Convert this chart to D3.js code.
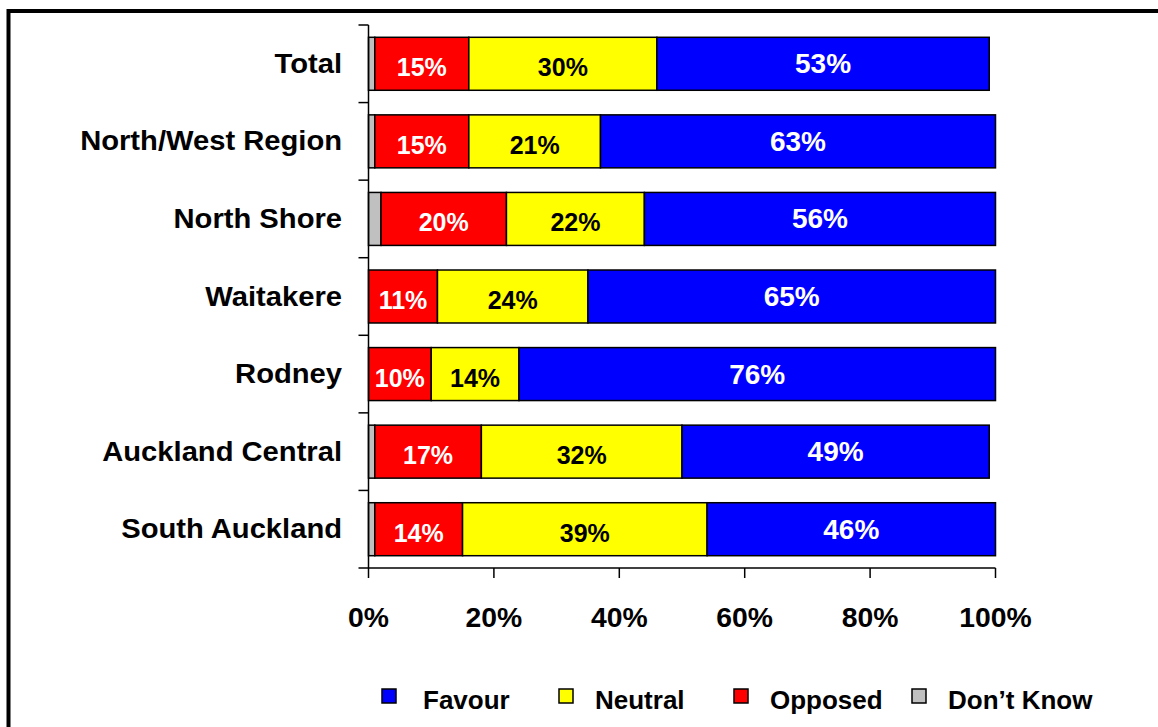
<!DOCTYPE html>
<html>
<head>
<meta charset="utf-8">
<script src="https://cdn.jsdelivr.net/npm/d3@7"></script>
<style>
  body { margin: 0; background: #fff; }
  svg text { font-family: "Liberation Sans", Arial, sans-serif; font-weight: bold; }
</style>
</head>
<body>
<div id="chart"></div>
<script>
// data
const categories = ["Total", "North/West Region", "North Shore", "Waitakere", "Rodney", "Auckland Central", "South Auckland"];
const dontKnow = [1, 1, 2, 0, 0, 1, 1];
const opposed  = [15, 15, 20, 11, 10, 17, 14];
const neutral  = [30, 21, 22, 24, 14, 32, 39];
const favour   = [53, 63, 56, 65, 76, 49, 46];
const xTicks = [0, 20, 40, 60, 80, 100];
const seriesNames = ["Don't Know", "Opposed", "Neutral", "Favour"];
const legendNames = ["Favour", "Neutral", "Opposed", "Don\u2019t Know"];

const colors = { "Don't Know": "#c0c0c0", "Opposed": "#ff0000", "Neutral": "#ffff00", "Favour": "#0000ff" };
const labelColors = { "Opposed": "#fff", "Neutral": "#000", "Favour": "#fff" };

const W = 1158, H = 727;
const svg = d3.select("#chart").append("svg")
    .attr("width", W)
    .attr("height", H);

// outer frame (only top and left edges are in view)
svg.append("path")
    .attr("d", `M8.5,${H + 10} L8.5,11 L${W + 10},11`)
    .attr("fill", "none")
    .attr("stroke", "#000")
    .attr("stroke-width", 4);

// scales
const pad = 0.317;
const x = d3.scaleLinear().domain([0, 100]).range([368.5, 995.5]);
const y = d3.scaleBand().domain(categories).range([25, 568])
    .paddingInner(pad).paddingOuter(pad / 2);

// stack the rows
const rows = categories.map((c, i) => ({
    cat: c,
    "Don't Know": dontKnow[i], "Opposed": opposed[i], "Neutral": neutral[i], "Favour": favour[i]
}));
const stacked = d3.stack().keys(seriesNames)(rows);

const g = svg.append("g");
stacked.forEach(layer => {
    g.selectAll(null)
        .data(layer)
        .enter()
        .append("rect")
        .attr("x", d => x(d[0]))
        .attr("y", d => y(d.data.cat))
        .attr("width", d => x(d[1]) - x(d[0]))
        .attr("height", y.bandwidth())
        .attr("fill", colors[layer.key])
        .attr("stroke", "#000")
        .attr("stroke-width", d => d[1] > d[0] ? 1.5 : 0);

    if (layer.key === "Don't Know") return;
    const big = layer.key === "Favour";
    g.selectAll(null)
        .data(layer)
        .enter()
        .append("text")
        .attr("x", d => x((d[0] + d[1]) / 2))
        .attr("y", d => y(d.data.cat) + y.bandwidth() / 2 + (big ? 9.5 : 12.5))
        .attr("text-anchor", "middle")
        .attr("font-size", big ? 28 : 25)
        .attr("fill", labelColors[layer.key])
        .text(d => (d[1] - d[0]) + "%");
});

// y axis: line with ticks at band boundaries
const step = y.step();
const yTop = y(categories[0]) - step * pad / 2;
const yBot = yTop + step * categories.length;
const axisG = svg.append("g").attr("stroke", "#000").attr("stroke-width", 1.5);
axisG.append("line").attr("x1", x(0)).attr("x2", x(0)).attr("y1", yTop).attr("y2", yBot);
axisG.selectAll(null)
    .data(d3.range(categories.length + 1))
    .enter()
    .append("line")
    .attr("x1", x(0) - 10).attr("x2", x(0))
    .attr("y1", i => yTop + i * step).attr("y2", i => yTop + i * step);

// x axis
axisG.append("line").attr("x1", x(0)).attr("x2", x(100)).attr("y1", yBot).attr("y2", yBot);
axisG.selectAll(null)
    .data(xTicks)
    .enter()
    .append("line")
    .attr("x1", d => x(d)).attr("x2", d => x(d))
    .attr("y1", yBot).attr("y2", yBot + 10);

svg.selectAll(".xlab")
    .data(xTicks)
    .enter()
    .append("text")
    .attr("class", "xlab")
    .attr("transform", d => `translate(${x(d)},627) scale(1.03,1)`)
    .attr("text-anchor", "middle")
    .attr("font-size", 27.5)
    .text(d => d + "%");

// category labels (the original is a bit wider than it is tall)
svg.selectAll(".ylab")
    .data(categories)
    .enter()
    .append("text")
    .attr("class", "ylab")
    .attr("transform", d => `translate(342,${y(d) + y.bandwidth() / 2 + 9}) scale(1.08,1)`)
    .attr("text-anchor", "end")
    .attr("font-size", 27)
    .text(d => d);

// legend
const legendX = [382, 559, 734, 912];
const legend = svg.selectAll(".leg")
    .data(legendNames)
    .enter()
    .append("g")
    .attr("class", "leg")
    .attr("transform", (d, i) => `translate(${legendX[i]},689)`);
legend.append("rect")
    .attr("width", 14).attr("height", 14)
    .attr("fill", (d, i) => colors[seriesNames[3 - i]])
    .attr("stroke", "#000")
    .attr("stroke-width", 1.5);
legend.append("text")
    .attr("x", d => d === "Favour" ? 41 : 36)
    .attr("y", 20)
    .attr("font-size", 26)
    .text(d => d);
</script>
</body>
</html>
